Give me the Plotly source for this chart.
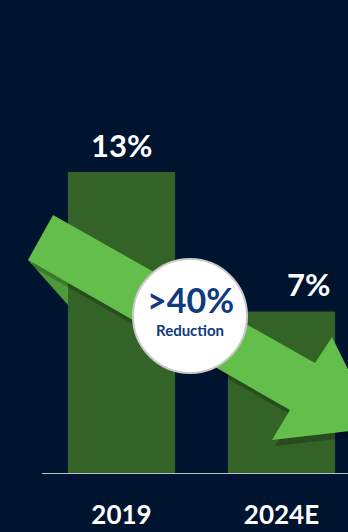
import plotly.graph_objects as go

# ---- data ----
categories = ["2019", "2024E"]
values = [13, 7]
value_labels = ["13%", "7%"]
badge_main = ">40%"
badge_sub = "Reduction"

# ---- style ----
BG = "#001430"
BAR = "#336327"
ARROW = "#63BE4B"
FOLD = "#4E9A3A"
NAVY = "#0E3A80"
FONT = "Lato"

W, H = 348, 532
MB = 58
PH = H - MB  # plot height in px


def px(x):
    return x / W


def py(y):
    return (PH - y) / PH


def path(points):
    return "M " + " L ".join(f"{px(x):.5f},{py(y):.5f}" for x, y in points) + " Z"


arrow_pts = [(53, 215), (315, 363), (332, 337), (377, 428), (272, 440), (290, 410), (28, 260)]
shadow_pts = [(x + 3, y + 6) for x, y in arrow_pts]
fold_pts = [(28, 260), (68, 282.6), (68, 305)]

fig = go.Figure()
fig.add_trace(go.Bar(
    x=[0, 1], y=values, width=0.67, marker=dict(color=BAR, line=dict(width=0)),
    hoverinfo="skip",
))

shapes = [
    dict(type="line", xref="paper", yref="y", x0=px(42), x1=1, y0=0, y1=0,
         line=dict(color="#BDBDBD", width=2), layer="above"),
    dict(type="path", xref="paper", yref="paper", path=path(fold_pts),
         fillcolor=FOLD, line=dict(width=0), layer="above"),
    dict(type="path", xref="paper", yref="paper", path=path(shadow_pts),
         fillcolor="rgba(0,0,0,0.22)", line=dict(width=0), layer="above"),
    dict(type="path", xref="paper", yref="paper", path=path(arrow_pts),
         fillcolor=ARROW, line=dict(width=0), layer="above"),
    dict(type="circle", xref="paper", yref="paper",
         x0=px(190 - 57), x1=px(190 + 57), y0=py(316 + 57), y1=py(316 - 57),
         fillcolor="white", line=dict(color="#C9C9C9", width=2), layer="above"),
]

annotations = [
    dict(x=0, y=values[0], xref="x", yref="y", text=value_labels[0], showarrow=False,
         yanchor="bottom", yshift=6, xshift=0,
         font=dict(family=FONT, size=31, color="white", weight=700)),
    dict(x=1, y=values[1], xref="x", yref="y", text=value_labels[1], showarrow=False,
         yanchor="bottom", yshift=6, xshift=27,
         font=dict(family=FONT, size=31, color="white", weight=700)),
    dict(x=px(190), y=py(299), xref="paper", yref="paper", text=badge_main, showarrow=False,
         font=dict(family=FONT, size=34, color=NAVY, weight=700)),
    dict(x=px(190), y=py(341), xref="paper", yref="paper", text=badge_sub, showarrow=False,
         font=dict(family=FONT, size=15, color=NAVY, weight=700)),
]

fig.update_layout(
    width=W, height=H,
    margin=dict(l=0, r=0, t=0, b=MB),
    paper_bgcolor=BG, plot_bgcolor=BG,
    showlegend=False,
    shapes=shapes,
    annotations=annotations,
    xaxis=dict(range=[-121.5 / 160, (W - 121.5) / 160], tickvals=[0, 1], ticktext=categories,
               showgrid=False, zeroline=False, showline=False,
               ticks="outside", ticklen=18, tickcolor="rgba(0,0,0,0)",
               tickfont=dict(family=FONT, size=26, color="white", weight=700), fixedrange=True),
    yaxis=dict(range=[0, PH / (302 / 13)], showgrid=False, zeroline=False, showline=False,
               showticklabels=False, fixedrange=True),
)

fig.write_html("out.html", config={"displayModeBar": False})
